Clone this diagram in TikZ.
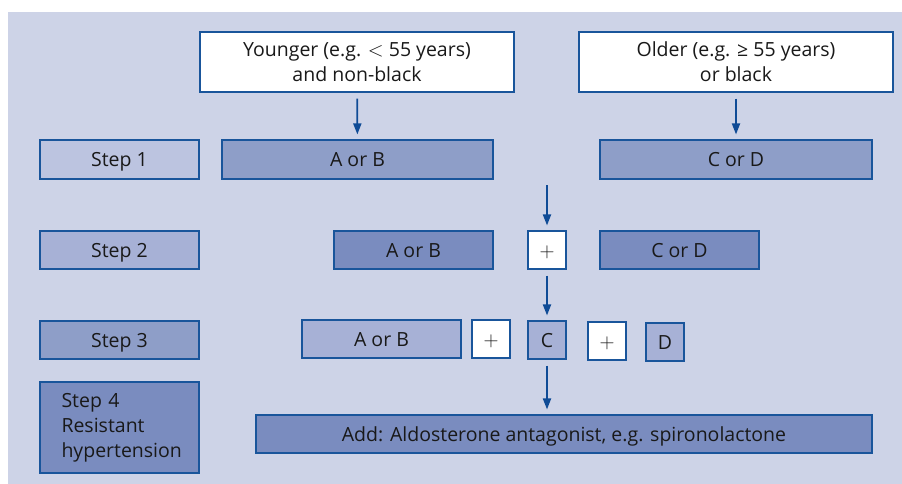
\documentclass[tikz,border=0pt]{standalone}
\usepackage{fontspec}
\setmainfont{Open Sans}
\usetikzlibrary{arrows.meta,positioning}
\definecolor{panelbg}{RGB}{205,211,231}
\definecolor{shadeA}{RGB}{188,196,224}
\definecolor{shadeB}{RGB}{167,177,214}
\definecolor{shadeC}{RGB}{142,158,200}
\definecolor{shadeD}{RGB}{122,140,191}
\definecolor{edgeblue}{RGB}{25,85,155}
\definecolor{arrowblue}{RGB}{15,75,150}

\begin{document}
\begin{tikzpicture}[x=1pt,y=-1pt,>={Triangle[length=11pt,width=8pt]}]
  \tikzstyle{box}=[rectangle,draw=edgeblue,line width=1.1pt,inner sep=0pt,text=black!90,font=\fontsize{19.5}{25}\selectfont]
  \tikzstyle{bar}=[box,text height=14pt,text depth=0pt]
  \tikzstyle{plusbox}=[bar,fill=white,minimum width=38pt,minimum height=38pt]
  \tikzstyle{flow}=[->,arrowblue,line width=1.8pt,shorten <=6pt,shorten >=5pt]
  \useasboundingbox (0,0) rectangle (902,484);
  \fill[panelbg] (8,12) rectangle (902,484);
  % patient groups
  \node[box,fill=white,minimum width=314pt,minimum height=60pt,align=center] (young) at (357,62) {Younger (e.g. $<$ 55 years)\\and non-black};
  \node[box,fill=white,minimum width=314pt,minimum height=60pt,align=center] (old) at (736,62) {Older (e.g. \char"2265{} 55 years)\\or black};
  % step labels
  \node[bar,fill=shadeA,minimum width=159pt,minimum height=39pt] (s1) at (119.5,159.5) {Step 1};
  \node[bar,fill=shadeB,minimum width=159pt,minimum height=38pt] (s2) at (119.5,250) {Step 2};
  \node[bar,fill=shadeC,minimum width=159pt,minimum height=38pt] (s3) at (119.5,340) {Step 3};
  \node[box,fill=shadeD,minimum width=159pt,minimum height=91pt,align=left,text width=116pt] (s4) at (119.5,427.5) {Step 4\\Resistant\\hypertension};
  % step 1
  \node[bar,fill=shadeC,minimum width=271pt,minimum height=39pt] (ab1) at (357.5,159.5) {A or B};
  \node[bar,fill=shadeC,minimum width=272pt,minimum height=39pt] (cd1) at (736,159.5) {C or D};
  \coordinate (split) at (547,179);
  % step 2
  \node[bar,fill=shadeD,minimum width=159pt,minimum height=38pt] (ab2) at (413.5,250) {A or B};
  \node[plusbox] (p2) at (547,250) {$+$};
  \node[bar,fill=shadeD,minimum width=159pt,minimum height=38pt] (cd2) at (679.5,250) {C or D};
  % step 3
  \node[bar,fill=shadeB,minimum width=159pt,minimum height=38pt] (ab3) at (381.5,339) {A or B};
  \node[plusbox] (p3a) at (491,339) {$+$};
  \node[bar,fill=shadeB,minimum width=38pt,minimum height=38pt] (c3) at (547,340) {C};
  \node[plusbox] (p3b) at (607,341) {$+$};
  \node[bar,fill=shadeB,minimum width=38pt,minimum height=38pt] (d3) at (665,342) {D};
  % step 4
  \node[bar,fill=shadeD,minimum width=616pt,minimum height=38pt] (add) at (564,434) {Add: Aldosterone antagonist, e.g. spironolactone};
  % arrows
  \draw[flow] (young) -- (ab1);
  \draw[flow] (old) -- (cd1);
  \draw[flow] (split) -- (p2);
  \draw[flow] (p2) -- (c3);
  \draw[flow] (c3) -- (c3 |- add.north);
\end{tikzpicture}
\end{document}
